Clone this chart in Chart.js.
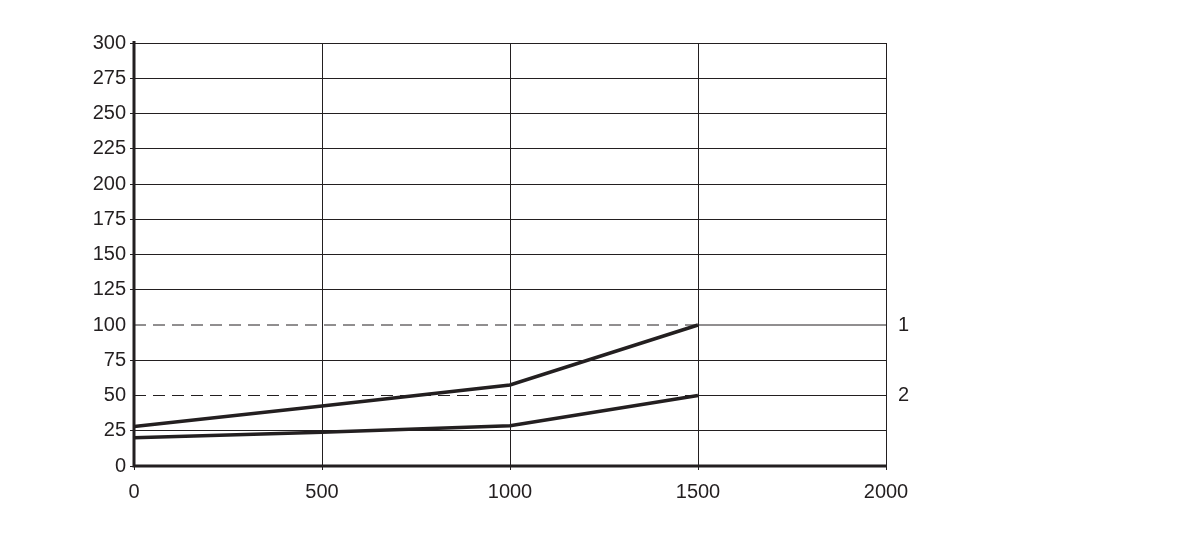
<!DOCTYPE html>
<html><head><meta charset="utf-8">
<script src="https://cdn.jsdelivr.net/npm/chart.js@4/dist/chart.umd.min.js"></script>
<style>html,body{margin:0;padding:0;background:#fff}#w{width:1202px;height:539px}</style>
</head><body><div id="w"><canvas id="c"></canvas></div>
<script>
const xValues = [0, 500, 1000, 1500];
const curve1 = [28, 42.5, 57.5, 100];
const curve2 = [20, 24, 28.5, 50];
const levels = [100, 50];
const levelLabels = ['1', '2'];
const xMax = 2000, yMax = 300;

const pts = a => xValues.map((x, i) => ({x, y: a[i]}));
const ink = '#231f20';
const fontFam = '"Liberation Sans", Arial';
const datasets = [
  {data: pts(curve1), borderColor: ink, borderWidth: 3.5},
  {data: pts(curve2), borderColor: ink, borderWidth: 3.5},
];
levels.forEach(l => {
  datasets.push({data: [{x: 0, y: l}, {x: 1500, y: l}], borderColor: ink, borderWidth: 1, borderDash: [12, 7]});
  datasets.push({data: [{x: 1500, y: l}, {x: xMax, y: l}], borderColor: ink, borderWidth: 1});
});
const labelPlugin = {
  id: 'lbl',
  afterDraw(ch) {
    const c = ch.ctx, y = ch.scales.y, a = ch.chartArea;
    c.save();
    c.font = '20px ' + fontFam;
    c.fillStyle = ink; c.textBaseline = 'middle';
    levels.forEach((l, i) => c.fillText(levelLabels[i], a.right + 12, y.getPixelForValue(l)));
    c.strokeStyle = ink; c.lineWidth = 3;
    c.beginPath(); c.moveTo(a.left, a.top - 2); c.lineTo(a.left, a.bottom); c.lineTo(a.right + 1, a.bottom); c.stroke();
    c.restore();
  }
};
new Chart(document.getElementById('c'), {
  type: 'line',
  data: {datasets: datasets.map(d => Object.assign({pointRadius: 0, fill: false, tension: 0}, d))},
  options: {
    responsive: true, maintainAspectRatio: false, animation: false,
    layout: {padding: {left: 0, right: 316, top: 43, bottom: 0}},
    plugins: {legend: {display: false}, tooltip: {enabled: false}},
    scales: {
      x: {type: 'linear', min: 0, max: xMax,
        ticks: {stepSize: 500, color: ink, font: {size: 20, family: fontFam}, padding: 10, callback: v => String(v)},
        grid: {color: ink, lineWidth: 1, tickLength: 4}, border: {color: ink, width: 1},
        afterFit: s => { s.height = 73; }},
      y: {min: 0, max: yMax,
        ticks: {stepSize: 25, color: ink, font: {size: 20, family: fontFam}, padding: 4},
        grid: {color: c => (levels.includes(c.tick && c.tick.value) ? 'rgba(0,0,0,0)' : ink), lineWidth: 1, tickLength: 4},
        border: {color: ink, width: 1},
        afterFit: s => { s.width = 134; }}
    }
  },
  plugins: [labelPlugin]
});
</script></body></html>
